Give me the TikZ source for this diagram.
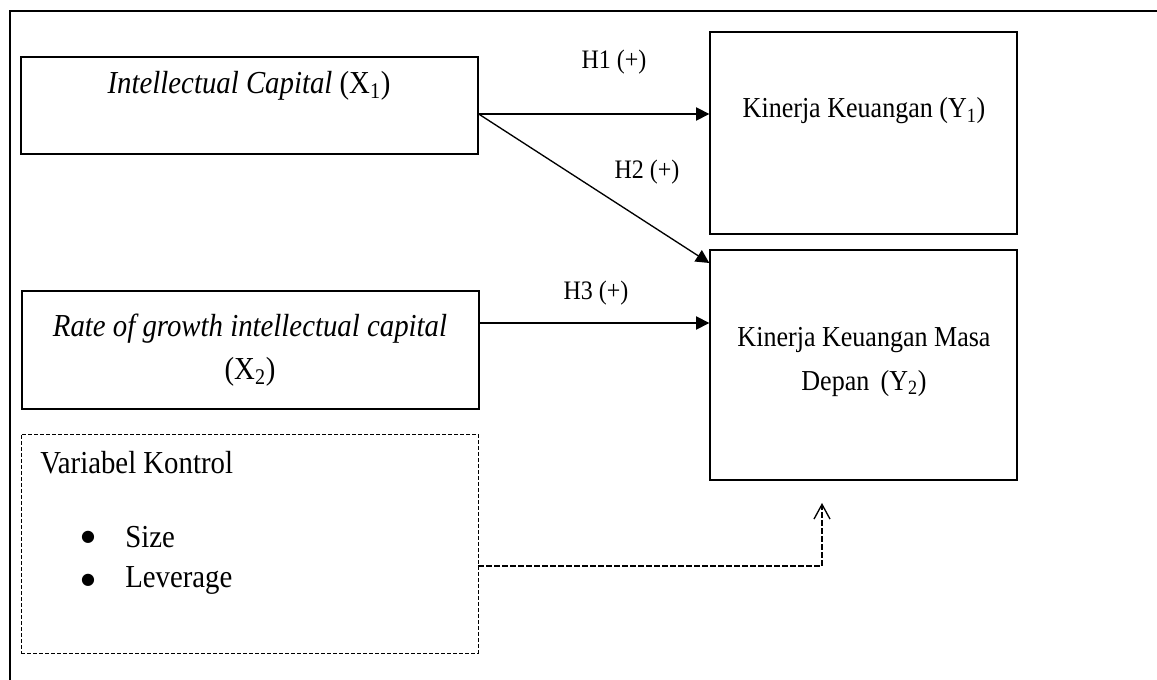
\documentclass[tikz,border=0pt]{standalone}
\usepackage{fontspec}
\setmainfont[FakeStretch=0.9]{Liberation Serif}
\newfontfamily\symfont{DejaVu Sans}
\usetikzlibrary{arrows.meta}
\begin{document}
\begin{tikzpicture}[x=0.75pt,y=-0.75pt,
  box/.style={draw,line width=1pt,inner sep=0pt},
  ctrlbox/.style={draw,line width=0.6pt,dash pattern=on 3pt off 1.5pt,inner sep=0pt},
  big/.style={inner sep=0pt,font=\fontsize{24}{32.25}\selectfont},
  bul/.style={inner sep=0pt,font=\symfont\fontsize{12}{12}\selectfont},
  mid/.style={inner sep=0pt,font=\fontsize{21.7}{33}\selectfont},
  hlab/.style={inner sep=0pt,font=\fontsize{20}{24}\selectfont},
  arr/.style={line width=1pt,-{Triangle[length=10pt,width=10pt]}},
  darr/.style={line width=1pt,dash pattern=on 4pt off 2pt,-{Straight Barb[length=11pt,width=12pt]}}]
\useasboundingbox (0,0) rectangle (1157,680);
\draw[line width=1.1pt] (1157,11) -- (10,11) -- (10,680);
% boxes
\node[box,minimum width=342.75pt,minimum height=72.75pt] (x1) at (249.5,105.5) {};
\node[box,minimum width=342.75pt,minimum height=88.5pt] (x2) at (250.5,350) {};
\node[ctrlbox,minimum width=342.75pt,minimum height=164.25pt] (ctrl) at (249.5,543.5) {};
\node[box,minimum width=230.25pt,minimum height=151.5pt] (y1) at (863.5,133) {};
\node[box,minimum width=230.25pt,minimum height=172.5pt] (y2) at (863.5,365) {};
% texts
\node[big] (tx1) at (249,86) {\textit{Intellectual Capital} (X\textsubscript{1})};
\node[big,align=center] (tx2) at (250,350) {\textit{Rate of growth intellectual capital}\\(X\textsubscript{2})};
\node[mid] (ty1) at (864,111) {Kinerja Keuangan (Y\textsubscript{1})};
\node[mid,align=center] (ty2) at (864,362) {Kinerja Keuangan Masa\\Depan\ \,(Y\textsubscript{2})};
\node[big,anchor=west] (vk) at (40,463) {Variabel Kontrol};
\node[bul] (b1) at (88,537) {●};
\node[big,anchor=west] (s1) at (125,537) {Size};
\node[bul] (b2) at (88,580) {●};
\node[big,anchor=west] (s2) at (125,580) {Leverage};
% labels
\node[hlab] (h1) at (614,62) {H1 (+)};
\node[hlab] (h2) at (647,172) {H2 (+)};
\node[hlab] (h3) at (596,293) {H3 (+)};
% connectors
\draw[arr] (x1.east |- 0,114) -- (y1.west |- 0,114);
\draw[arr] (x1.east |- 0,114) -- (y2.west |- 0,263);
\draw[arr] (x2.east |- 0,323) -- (y2.west |- 0,323);
\coordinate (ct) at (822,503);
\draw[darr] (ctrl.east |- 0,566) -| (ct);
\end{tikzpicture}
\end{document}
